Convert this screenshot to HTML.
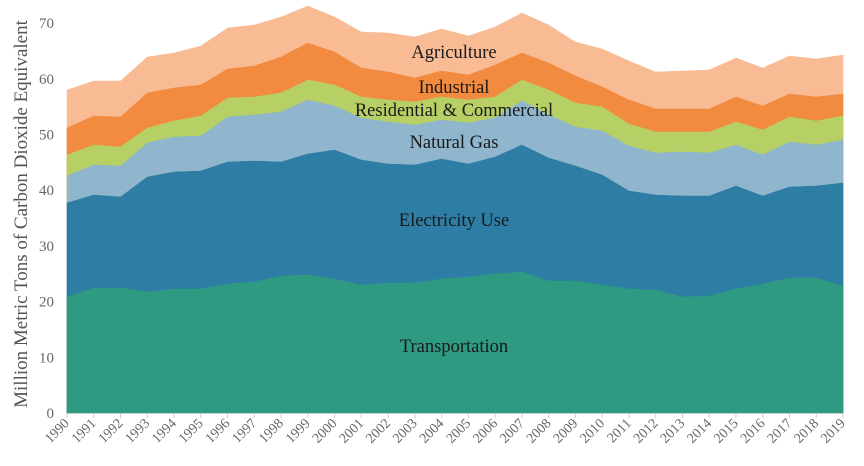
<!DOCTYPE html>
<html><head><meta charset="utf-8"><style>
html,body{margin:0;padding:0;background:#fff;}
svg{display:block;}
</style></head><body>
<svg id="c" width="864" height="466" xmlns="http://www.w3.org/2000/svg" font-family="Liberation Serif, serif"></svg>
<script>
var svg=document.getElementById('c');
var B=413,X0=67,DX=(843-67)/29;
var tops=[
[297,288,288,292,289,289,284,282,276,275,279,285,283,283,279,277,274,272,281,281,285,289,290,297,296,289,284,278,278,286],
[203,195,197,177,172,171,162,161,162,154,150,160,164,165,159,164,157,145,158,166,175,191,195,196,196,186,196,187,186,183],
[176,165,166,143,137,136,117,115,112,100,106,118,122,125,120,123,118,101,115,127,131,146,153,152,153,145,155,142,145,140],
[155,145,147,128,121,116,98,97,93,80,85,97,100,102,97,100,97,80,90,103,107,124,132,132,132,122,130,117,121,116],
[128,116,117,93,88,85,69,66,57,43,52,68,72,78,71,75,65,53,63,76,87,100,109,109,109,97,106,94,97,94],
[90,81,81,57,53,46,28,25,17,6,17,32,33,37,29,36,27,13,25,42,49,61,72,71,70,58,68,56,59,55]];
var cols=['#2e9a82','#2e7da5','#8fb6cc','#b7d065','#f28a3f','#f8bb94'];
var h='';
for(var k=tops.length-1;k>=0;k--){
  var d='M'+X0+','+B;
  for(var i=0;i<30;i++)d+=' L'+(X0+DX*i).toFixed(1)+','+tops[k][i];
  d+=' L843,'+B+' Z';
  h+='<path d="'+d+'" fill="'+cols[k]+'" stroke="'+cols[k]+'" stroke-width="0.5"/>';
}
h+='<line x1="67" y1="413.5" x2="843" y2="413.5" stroke="#ccc"/>';
for(var v=0;v<=70;v+=10){
  var y=B-v*55.7/10;
  h+='<text x="54" y="'+(y+5)+'" text-anchor="end" font-size="15" fill="#666">'+v+'</text>';
}
for(var i=0;i<30;i++){
  var x=X0+DX*i;
  h+='<line x1="'+x+'" y1="413" x2="'+x+'" y2="418" stroke="#ccc"/>';
  h+='<text transform="translate('+(x+3)+',424) rotate(-45)" text-anchor="end" font-size="14" fill="#666">'+(1990+i)+'</text>';
}
h+='<text transform="translate(27,214) rotate(-90)" text-anchor="middle" font-size="19" fill="#555">Million Metric Tons of Carbon Dioxide Equivalent</text>';
var L=[['Agriculture',58],['Industrial',93],['Residential &amp; Commercial',116],['Natural Gas',148],['Electricity Use',226],['Transportation',352]];
L.forEach(function(l){h+='<text x="454" y="'+l[1]+'" text-anchor="middle" font-size="18.5" fill="#1a1a1a">'+l[0]+'</text>';});
svg.innerHTML=h;
</script>
</body></html>
